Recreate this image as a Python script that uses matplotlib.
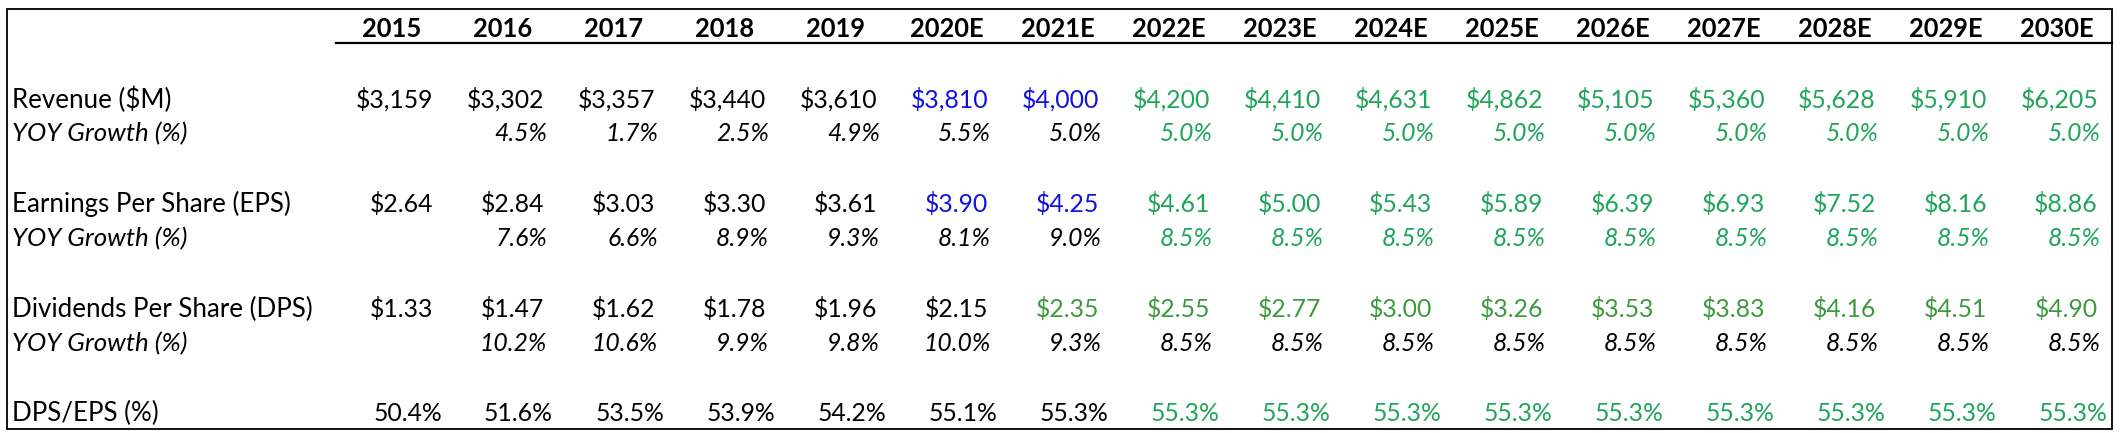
import matplotlib
matplotlib.use("Agg")
import matplotlib.pyplot as plt
from matplotlib.patches import Rectangle

plt.rcParams['font.family'] = ['Lato', 'DejaVu Sans']

years = ["2015", "2016", "2017", "2018", "2019", "2020E", "2021E", "2022E",
         "2023E", "2024E", "2025E", "2026E", "2027E", "2028E", "2029E", "2030E"]

revenue = [3159, 3302, 3357, 3440, 3610, 3810, 4000, 4200, 4410, 4631, 4862,
           5105, 5360, 5628, 5910, 6205]
rev_growth = [None, 4.5, 1.7, 2.5, 4.9, 5.5, 5.0, 5.0, 5.0, 5.0, 5.0, 5.0, 5.0,
              5.0, 5.0, 5.0]
eps = [2.64, 2.84, 3.03, 3.30, 3.61, 3.90, 4.25, 4.61, 5.00, 5.43, 5.89, 6.39,
       6.93, 7.52, 8.16, 8.86]
eps_growth = [None, 7.6, 6.6, 8.9, 9.3, 8.1, 9.0, 8.5, 8.5, 8.5, 8.5, 8.5, 8.5,
              8.5, 8.5, 8.5]
dps = [1.33, 1.47, 1.62, 1.78, 1.96, 2.15, 2.35, 2.55, 2.77, 3.00, 3.26, 3.53,
       3.83, 4.16, 4.51, 4.90]
dps_growth = [None, 10.2, 10.6, 9.9, 9.8, 10.0, 9.3, 8.5, 8.5, 8.5, 8.5, 8.5,
              8.5, 8.5, 8.5, 8.5]
payout = [50.4, 51.6, 53.5, 53.9, 54.2, 55.1, 55.3, 55.3, 55.3, 55.3, 55.3,
          55.3, 55.3, 55.3, 55.3, 55.3]

row_labels = ["Revenue ($M)", "YOY Growth (%)", "Earnings Per Share (EPS)",
              "YOY Growth (%)", "Dividends Per Share (DPS)", "YOY Growth (%)",
              "DPS/EPS (%)"]

BLACK = "#000000"
BLUE = "#1010E0"
GREEN = "#1FA55A"
GREEN2 = "#3C9A3C"

def colors(n_black, n_blue, green):
    return [BLACK] * n_black + [BLUE] * n_blue + [green] * (16 - n_black - n_blue)

W, H = 2121, 433
fig = plt.figure(figsize=(W / 100, H / 100), dpi=100)
ax = fig.add_axes([0, 0, 1, 1])
ax.set_xlim(0, W)
ax.set_ylim(H, 0)
ax.axis('off')

FS = 17.8
FS_LABEL = 18.6
FS_HEAD = 18.4
col_left = 336
col_w = 111
row_h = 34.95
row0 = 27

def ry(i):
    return row0 + row_h * i

# border and header rule
ax.add_patch(Rectangle((6.5, 8.5), 2112 - 6.5, 428.5 - 8.5, fill=False,
                       edgecolor="black", linewidth=1.3))
ax.plot([col_left, 2112], [43, 43], color="black", linewidth=1.6)

for i, y in enumerate(years):
    ax.text(col_left + col_w * (i + 0.5), ry(0), y, ha='center',
            va='center_baseline', fontsize=FS_HEAD, fontweight='bold', color=BLACK)

rows = [
    (2, revenue, lambda v: f"${v:,.0f}", False, colors(5, 2, GREEN), 447 - 14),
    (3, rev_growth, lambda v: f"{v:.1f}%", True, colors(7, 0, GREEN), 447 - 11),
    (5, eps, lambda v: f"${v:.2f}", False, colors(5, 2, GREEN), 447 - 14),
    (6, eps_growth, lambda v: f"{v:.1f}%", True, colors(7, 0, GREEN), 447 - 11),
    (8, dps, lambda v: f"${v:.2f}", False, colors(6, 0, GREEN2), 447 - 14),
    (9, dps_growth, lambda v: f"{v:.1f}%", True, colors(16, 0, GREEN), 447 - 11),
    (11, payout, lambda v: f"{v:.1f}%", False, colors(7, 0, GREEN), 447 - 5),
]

for (r, vals, fmt, italic, cols, right0), label in zip(rows, row_labels):
    ax.text(12, ry(r), label, ha='left', va='center_baseline', fontsize=FS_LABEL,
            fontstyle='italic' if italic else 'normal', color=BLACK)
    for i, v in enumerate(vals):
        if v is None:
            continue
        ax.text(right0 + col_w * i, ry(r), fmt(v), ha='right',
                va='center_baseline', fontsize=FS,
                fontstyle='italic' if italic else 'normal', color=cols[i])

fig.savefig("out.png", dpi=100, facecolor="white")
